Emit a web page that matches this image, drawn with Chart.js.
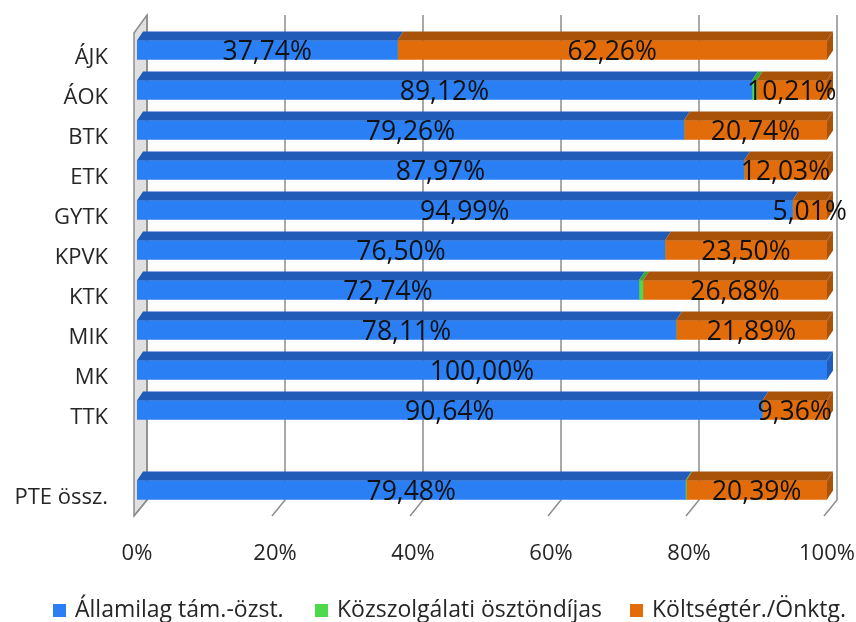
<!DOCTYPE html>
<html>
<head>
<meta charset="utf-8">
<script src="https://cdn.jsdelivr.net/npm/chart.js@4"></script>
<style>
  body { margin: 0; background: #fff; }
  #wrap { width: 856px; height: 622px; }
</style>
</head>
<body>
<div id="wrap"><canvas id="chart" width="856" height="622"></canvas></div>
<script>
const categories = ["ÁJK", "ÁOK", "BTK", "ETK", "GYTK", "KPVK", "KTK", "MIK", "MK", "TTK", "", "PTE össz."];
const allami = [37.74, 89.12, 79.26, 87.97, 94.99, 76.50, 72.74, 78.11, 100.00, 90.64, null, 79.48];
const kozszolg = [0, 0.67, 0, 0, 0, 0, 0.58, 0, 0, 0, null, 0.13];
const koltseg = [62.26, 10.21, 20.74, 12.03, 5.01, 23.50, 26.68, 21.89, 0, 9.36, null, 20.39];
const xTicks = [0, 20, 40, 60, 80, 100];

const FONT = "'Open Sans', 'Noto Sans', sans-serif";
const topColors = ["#215db8", "#36a836", "#a9520a"];
const DX = 6, DY = 9;

// no automatic label overhang padding, the chart area is set by layout padding
const noOverhang = (s) => {
  s.paddingLeft = s.paddingRight = s.paddingTop = s.paddingBottom = 0;
};

// back wall, gridlines and floor of the 3D box
const box3d = {
  id: "box3d",
  beforeDatasetsDraw(chart) {
    const { ctx, chartArea: a, scales: { x } } = chart;
    ctx.save();
    ctx.beginPath();
    ctx.moveTo(a.left - 3, a.top + 3);
    ctx.lineTo(a.left + 10, a.top - 15);
    ctx.lineTo(a.left + 10, a.bottom - 10);
    ctx.lineTo(a.left - 3, a.bottom + 6);
    ctx.closePath();
    ctx.fillStyle = "#e0e0e0";
    ctx.fill();
    ctx.strokeStyle = "#8c8c8c";
    ctx.lineWidth = 1.5;
    ctx.stroke();
    xTicks.forEach(v => {
      const px = x.getPixelForValue(v);
      ctx.beginPath();
      ctx.moveTo(px + 10, a.top - 15);
      ctx.lineTo(px + 10, a.bottom - 10);
      ctx.lineTo(px - 3, a.bottom + 6);
      ctx.stroke();
    });
    ctx.restore();
  },
  afterDatasetsDraw(chart) {
    const { ctx } = chart;
    ctx.save();
    const n = chart.data.labels.length;
    for (let i = 0; i < n; i++) {
      let last = null;
      chart.data.datasets.forEach((ds, d) => {
        const el = chart.getDatasetMeta(d).data[i];
        if (!el || !ds.data[i]) return;
        const l = Math.min(el.base, el.x), r = Math.max(el.base, el.x);
        const t = el.y - el.height / 2;
        ctx.fillStyle = topColors[d];
        ctx.beginPath();
        ctx.moveTo(l, t);
        ctx.lineTo(r, t);
        ctx.lineTo(r + DX, t - DY);
        ctx.lineTo(l + DX, t - DY);
        ctx.closePath();
        ctx.fill();
        last = { r, t, b: el.y + el.height / 2, d };
      });
      if (last) {
        ctx.fillStyle = topColors[last.d];
        ctx.beginPath();
        ctx.moveTo(last.r, last.t);
        ctx.lineTo(last.r + DX, last.t - DY);
        ctx.lineTo(last.r + DX, last.b - DY);
        ctx.lineTo(last.r, last.b);
        ctx.closePath();
        ctx.fill();
      }
    }
    // value labels
    ctx.font = "26.5px " + FONT;
    ctx.fillStyle = "#111";
    ctx.textAlign = "center";
    ctx.textBaseline = "middle";
    [0, 2].forEach(d => {
      const ds = chart.data.datasets[d];
      chart.getDatasetMeta(d).data.forEach((el, i) => {
        const v = ds.data[i];
        if (!v) return;
        ctx.fillText(v.toFixed(2).replace(".", ",") + "%", (el.base + el.x) / 2, el.y + 2.5);
      });
    });
    ctx.restore();
  },
  afterDraw(chart) {
    const { ctx } = chart;
    ctx.save();
    ctx.font = "23px " + FONT;
    ctx.textBaseline = "middle";
    const spots = [53, 315, 630];
    chart.data.datasets.forEach((ds, d) => {
      ctx.fillStyle = ds.backgroundColor;
      ctx.fillRect(spots[d], 604, 13, 13);
      ctx.fillStyle = "#262626";
      ctx.fillText(ds.label, spots[d] + 22, 610);
    });
    ctx.restore();
  }
};

new Chart(document.getElementById("chart"), {
  type: "bar",
  data: {
    labels: categories,
    datasets: [
      { label: "Államilag tám.-özst.", data: allami, backgroundColor: "#2a7ff5" },
      { label: "Közszolgálati ösztöndíjas", data: kozszolg, backgroundColor: "#4cd94c" },
      { label: "Költségtér./Önktg.", data: koltseg, backgroundColor: "#e36c0a" }
    ]
  },
  options: {
    indexAxis: "y",
    responsive: false,
    animation: false,
    barThickness: 19,
    layout: { padding: { top: 30, right: 29, left: 0, bottom: 0 } },
    plugins: {
      legend: { display: false },
      tooltip: { enabled: false }
    },
    scales: {
      x: {
        stacked: true,
        min: 0,
        max: 100,
        grid: { display: false },
        border: { display: false },
        afterFit: (s) => { s.height = 112; noOverhang(s); },
        afterBuildTicks: (s) => { s.ticks = xTicks.map(v => ({ value: v })); },
        ticks: {
          padding: 23,
          color: "#262626",
          font: { family: FONT, size: 22 },
          maxRotation: 0,
          callback: (v) => v + "%"
        }
      },
      y: {
        stacked: true,
        grid: { display: false },
        border: { display: false },
        afterFit: (s) => { s.width = 137; noOverhang(s); },
        ticks: {
          padding: 21,
          labelOffset: 8,
          color: "#262626",
          font: { family: FONT, size: 22 }
        }
      }
    }
  },
  plugins: [box3d]
});
</script>
</body>
</html>
